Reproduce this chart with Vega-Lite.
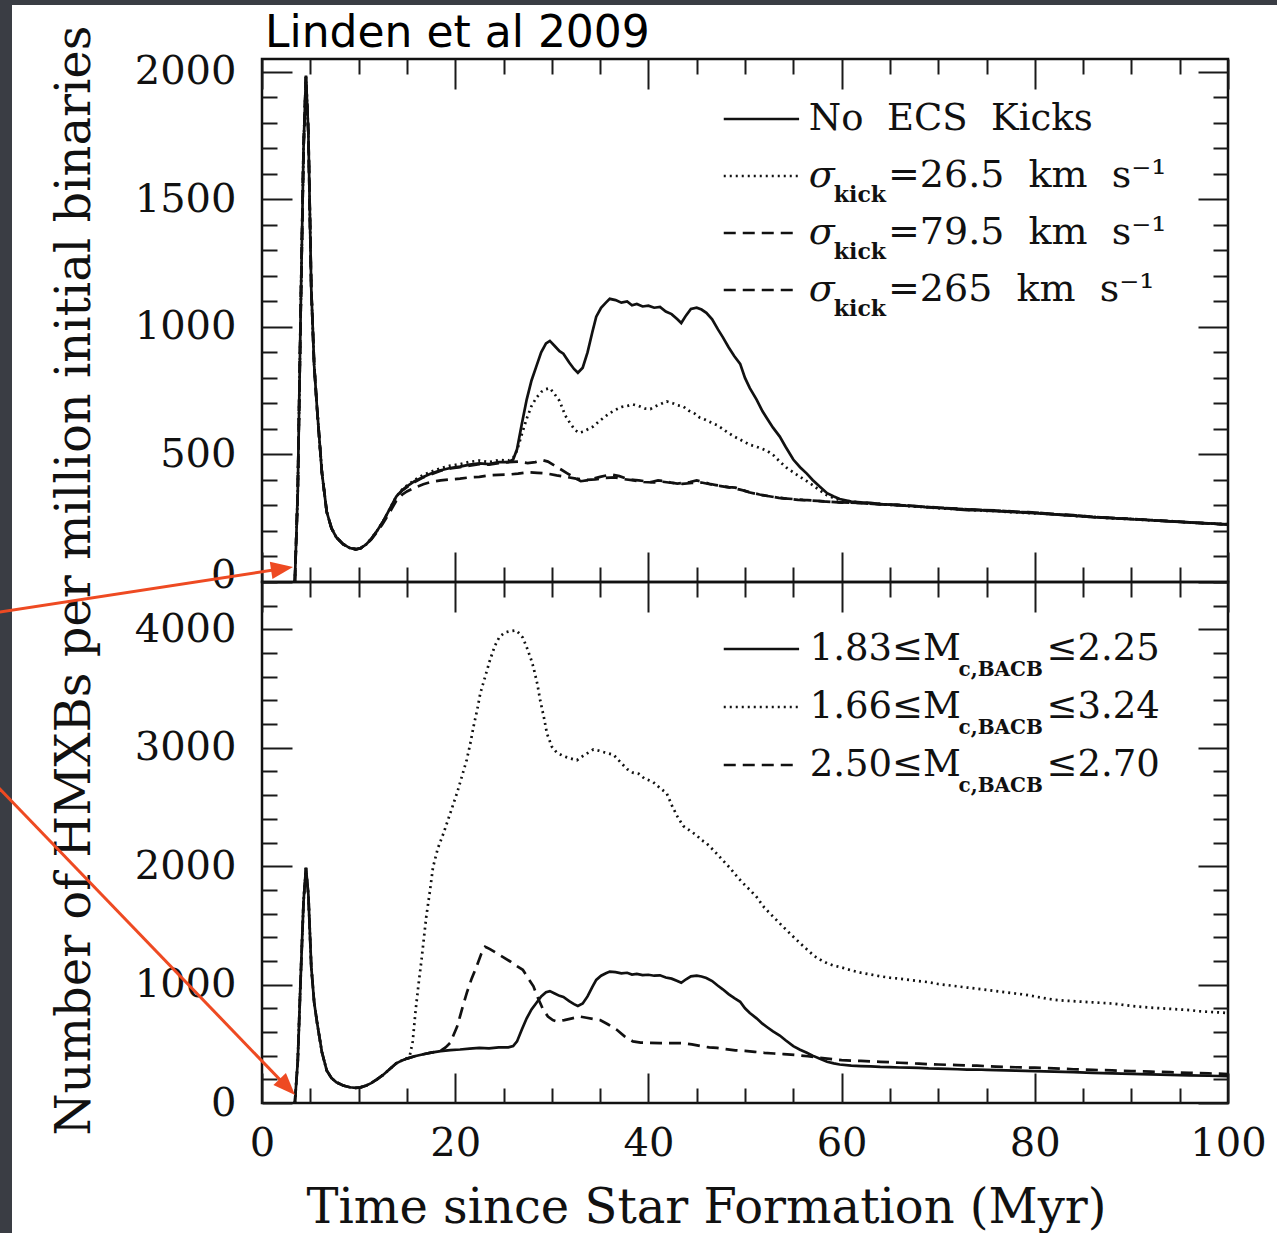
{
  "$schema": "https://vega.github.io/schema/vega-lite/v6.json",
  "background": "white",
  "autosize": {"type": "none"},
  "padding": {"left": 262, "top": 59, "right": 1015, "bottom": 1174},
  "spacing": 0,
  "bounds": "flush",
  "config": {
    "view": {"stroke": "#111", "strokeWidth": 2.5},
    "axis": {"domain": false, "grid": false, "zindex": 1, "tickColor": "#1a1a1a", "tickWidth": 2, "labelFont": "DejaVu Serif", "labelFontSize": 40, "labelColor": "#111", "titleFont": "DejaVu Serif", "titleFontWeight": "normal", "titleColor": "#111", "labelOverlap": false, "labelFlush": false, "labelBound": false}
  },
  "datasets": {
    "top": [
      {"s":"none","t":3.4,"n":0},{"s":"none","t":3.7,"n":350},{"s":"none","t":4.0,"n":1050},{"s":"none","t":4.3,"n":1700},{"s":"none","t":4.55,"n":1985},{"s":"none","t":4.8,"n":1760},{"s":"none","t":5.1,"n":1150},{"s":"none","t":5.4,"n":850},{"s":"none","t":5.7,"n":680},{"s":"none","t":6.2,"n":430},{"s":"none","t":6.7,"n":275},{"s":"none","t":7.2,"n":210},{"s":"none","t":7.7,"n":175},{"s":"none","t":8.4,"n":148},{"s":"none","t":9.1,"n":133},{"s":"none","t":9.7,"n":128},{"s":"none","t":10.2,"n":132},{"s":"none","t":10.8,"n":148},{"s":"none","t":11.3,"n":168},{"s":"none","t":11.9,"n":200},{"s":"none","t":12.5,"n":235},{"s":"none","t":13.2,"n":285},{"s":"none","t":13.9,"n":335},{"s":"none","t":14.5,"n":360},{"s":"none","t":15.0,"n":375},{"s":"none","t":15.8,"n":395},{"s":"none","t":16.7,"n":412},{"s":"none","t":17.5,"n":425},{"s":"none","t":18.5,"n":438},{"s":"none","t":19.5,"n":447},{"s":"none","t":20.5,"n":452},{"s":"none","t":21.5,"n":460},{"s":"none","t":22.5,"n":465},{"s":"none","t":23.5,"n":462},{"s":"none","t":24.5,"n":470},{"s":"none","t":25.5,"n":470},{"s":"none","t":26.0,"n":480},{"s":"none","t":26.4,"n":520},{"s":"none","t":26.9,"n":620},{"s":"none","t":27.4,"n":715},{"s":"none","t":27.9,"n":790},{"s":"none","t":28.4,"n":845},{"s":"none","t":28.9,"n":900},{"s":"none","t":29.4,"n":935},{"s":"none","t":29.8,"n":945},{"s":"none","t":30.3,"n":925},{"s":"none","t":30.8,"n":905},{"s":"none","t":31.2,"n":895},{"s":"none","t":31.8,"n":860},{"s":"none","t":32.3,"n":835},{"s":"none","t":32.7,"n":820},{"s":"none","t":33.2,"n":840},{"s":"none","t":33.7,"n":900},{"s":"none","t":34.2,"n":980},{"s":"none","t":34.6,"n":1040},{"s":"none","t":35.1,"n":1075},{"s":"none","t":35.6,"n":1095},{"s":"none","t":36.0,"n":1110},{"s":"none","t":36.6,"n":1105},{"s":"none","t":37.2,"n":1095},{"s":"none","t":37.8,"n":1100},{"s":"none","t":38.3,"n":1085},{"s":"none","t":38.8,"n":1090},{"s":"none","t":39.4,"n":1080},{"s":"none","t":40.0,"n":1083},{"s":"none","t":40.6,"n":1075},{"s":"none","t":41.2,"n":1078},{"s":"none","t":41.8,"n":1060},{"s":"none","t":42.4,"n":1050},{"s":"none","t":43.0,"n":1030},{"s":"none","t":43.4,"n":1015},{"s":"none","t":43.9,"n":1045},{"s":"none","t":44.4,"n":1070},{"s":"none","t":45.0,"n":1075},{"s":"none","t":45.5,"n":1068},{"s":"none","t":46.0,"n":1055},{"s":"none","t":46.6,"n":1030},{"s":"none","t":47.2,"n":990},{"s":"none","t":47.7,"n":960},{"s":"none","t":48.3,"n":920},{"s":"none","t":48.9,"n":885},{"s":"none","t":49.5,"n":855},{"s":"none","t":50.0,"n":800},{"s":"none","t":50.5,"n":760},{"s":"none","t":51.2,"n":715},{"s":"none","t":51.8,"n":670},{"s":"none","t":52.3,"n":640},{"s":"none","t":52.9,"n":605},{"s":"none","t":53.6,"n":570},{"s":"none","t":54.2,"n":530},{"s":"none","t":55.0,"n":480},{"s":"none","t":55.7,"n":450},{"s":"none","t":56.4,"n":425},{"s":"none","t":57.0,"n":400},{"s":"none","t":57.7,"n":375},{"s":"none","t":58.5,"n":348},{"s":"none","t":59.2,"n":335},{"s":"none","t":59.8,"n":325},{"s":"none","t":61,"n":315},{"s":"none","t":62,"n":312},{"s":"none","t":63,"n":310},{"s":"none","t":64,"n":305},{"s":"none","t":65,"n":303},{"s":"none","t":66,"n":300},{"s":"none","t":67,"n":298},{"s":"none","t":68,"n":296},{"s":"none","t":69,"n":292},{"s":"none","t":70,"n":290},{"s":"none","t":71,"n":288},{"s":"none","t":72,"n":285},{"s":"none","t":73,"n":282},{"s":"none","t":74,"n":283},{"s":"none","t":75,"n":280},{"s":"none","t":76,"n":278},{"s":"none","t":77,"n":276},{"s":"none","t":78,"n":274},{"s":"none","t":79,"n":272},{"s":"none","t":80,"n":270},{"s":"none","t":82,"n":265},{"s":"none","t":84,"n":260},{"s":"none","t":86,"n":254},{"s":"none","t":88,"n":250},{"s":"none","t":90,"n":246},{"s":"none","t":92,"n":242},{"s":"none","t":94,"n":238},{"s":"none","t":96,"n":234},{"s":"none","t":98,"n":230},{"s":"none","t":100,"n":226},

      {"s":"k26","t":3.4,"n":0},{"s":"k26","t":3.7,"n":350},{"s":"k26","t":4.0,"n":1050},{"s":"k26","t":4.3,"n":1700},{"s":"k26","t":4.55,"n":1980},{"s":"k26","t":4.8,"n":1760},{"s":"k26","t":5.1,"n":1150},{"s":"k26","t":5.4,"n":850},{"s":"k26","t":5.7,"n":680},{"s":"k26","t":6.2,"n":430},{"s":"k26","t":6.7,"n":275},{"s":"k26","t":7.2,"n":210},{"s":"k26","t":7.7,"n":175},{"s":"k26","t":8.4,"n":148},{"s":"k26","t":9.1,"n":133},{"s":"k26","t":9.7,"n":130},{"s":"k26","t":10.2,"n":132},{"s":"k26","t":10.8,"n":148},{"s":"k26","t":11.3,"n":170},{"s":"k26","t":11.9,"n":200},{"s":"k26","t":12.5,"n":235},{"s":"k26","t":13.2,"n":285},{"s":"k26","t":13.9,"n":335},{"s":"k26","t":14.5,"n":362},{"s":"k26","t":15.0,"n":378},{"s":"k26","t":15.8,"n":400},{"s":"k26","t":16.7,"n":420},{"s":"k26","t":17.5,"n":432},{"s":"k26","t":18.5,"n":446},{"s":"k26","t":19.5,"n":456},{"s":"k26","t":20.5,"n":462},{"s":"k26","t":21.5,"n":471},{"s":"k26","t":22.5,"n":476},{"s":"k26","t":23.5,"n":470},{"s":"k26","t":24.5,"n":478},{"s":"k26","t":25.5,"n":476},{"s":"k26","t":26.0,"n":486},{"s":"k26","t":26.4,"n":515},{"s":"k26","t":26.9,"n":580},{"s":"k26","t":27.4,"n":640},{"s":"k26","t":27.9,"n":690},{"s":"k26","t":28.4,"n":722},{"s":"k26","t":28.9,"n":745},{"s":"k26","t":29.4,"n":756},{"s":"k26","t":29.8,"n":760},{"s":"k26","t":30.3,"n":736},{"s":"k26","t":30.8,"n":710},{"s":"k26","t":31.4,"n":652},{"s":"k26","t":31.9,"n":622},{"s":"k26","t":32.4,"n":596},{"s":"k26","t":32.8,"n":585},{"s":"k26","t":33.3,"n":590},{"s":"k26","t":33.8,"n":600},{"s":"k26","t":34.3,"n":610},{"s":"k26","t":34.9,"n":630},{"s":"k26","t":35.5,"n":648},{"s":"k26","t":36.0,"n":662},{"s":"k26","t":36.6,"n":675},{"s":"k26","t":37.2,"n":686},{"s":"k26","t":37.8,"n":690},{"s":"k26","t":38.4,"n":696},{"s":"k26","t":39.0,"n":690},{"s":"k26","t":39.6,"n":680},{"s":"k26","t":40.2,"n":678},{"s":"k26","t":40.8,"n":690},{"s":"k26","t":41.4,"n":700},{"s":"k26","t":41.9,"n":708},{"s":"k26","t":42.5,"n":701},{"s":"k26","t":43.0,"n":693},{"s":"k26","t":43.6,"n":688},{"s":"k26","t":44.2,"n":671},{"s":"k26","t":44.8,"n":660},{"s":"k26","t":45.3,"n":645},{"s":"k26","t":45.9,"n":636},{"s":"k26","t":46.5,"n":625},{"s":"k26","t":47.1,"n":615},{"s":"k26","t":47.7,"n":600},{"s":"k26","t":48.2,"n":586},{"s":"k26","t":48.8,"n":572},{"s":"k26","t":49.4,"n":560},{"s":"k26","t":50.0,"n":548},{"s":"k26","t":50.5,"n":538},{"s":"k26","t":51.2,"n":530},{"s":"k26","t":51.8,"n":522},{"s":"k26","t":52.3,"n":514},{"s":"k26","t":53.0,"n":495},{"s":"k26","t":53.6,"n":472},{"s":"k26","t":54.3,"n":448},{"s":"k26","t":55.0,"n":430},{"s":"k26","t":55.7,"n":412},{"s":"k26","t":56.4,"n":395},{"s":"k26","t":57.0,"n":380},{"s":"k26","t":57.7,"n":360},{"s":"k26","t":58.5,"n":340},{"s":"k26","t":59.2,"n":329},{"s":"k26","t":59.8,"n":321},{"s":"k26","t":61,"n":316},{"s":"k26","t":62,"n":311},{"s":"k26","t":63,"n":309},{"s":"k26","t":64,"n":306},{"s":"k26","t":65,"n":302},{"s":"k26","t":66,"n":301},{"s":"k26","t":67,"n":297},{"s":"k26","t":68,"n":295},{"s":"k26","t":69,"n":293},{"s":"k26","t":70,"n":289},{"s":"k26","t":71,"n":287},{"s":"k26","t":72,"n":286},{"s":"k26","t":73,"n":283},{"s":"k26","t":74,"n":281},{"s":"k26","t":75,"n":279},{"s":"k26","t":76,"n":279},{"s":"k26","t":77,"n":275},{"s":"k26","t":78,"n":273},{"s":"k26","t":79,"n":271},{"s":"k26","t":80,"n":269},{"s":"k26","t":82,"n":266},{"s":"k26","t":84,"n":259},{"s":"k26","t":86,"n":255},{"s":"k26","t":88,"n":249},{"s":"k26","t":90,"n":247},{"s":"k26","t":92,"n":241},{"s":"k26","t":94,"n":239},{"s":"k26","t":96,"n":233},{"s":"k26","t":98,"n":229},{"s":"k26","t":100,"n":227},

      {"s":"k79","t":3.4,"n":0},{"s":"k79","t":3.7,"n":350},{"s":"k79","t":4.0,"n":1050},{"s":"k79","t":4.3,"n":1700},{"s":"k79","t":4.55,"n":1980},{"s":"k79","t":4.8,"n":1760},{"s":"k79","t":5.1,"n":1150},{"s":"k79","t":5.4,"n":850},{"s":"k79","t":5.7,"n":680},{"s":"k79","t":6.2,"n":430},{"s":"k79","t":6.7,"n":275},{"s":"k79","t":7.2,"n":210},{"s":"k79","t":7.7,"n":175},{"s":"k79","t":8.4,"n":148},{"s":"k79","t":9.1,"n":135},{"s":"k79","t":9.7,"n":128},{"s":"k79","t":10.2,"n":132},{"s":"k79","t":10.8,"n":150},{"s":"k79","t":11.3,"n":168},{"s":"k79","t":11.9,"n":200},{"s":"k79","t":12.5,"n":235},{"s":"k79","t":13.2,"n":282},{"s":"k79","t":13.9,"n":330},{"s":"k79","t":14.5,"n":358},{"s":"k79","t":15.0,"n":372},{"s":"k79","t":15.8,"n":392},{"s":"k79","t":16.7,"n":410},{"s":"k79","t":17.5,"n":422},{"s":"k79","t":18.5,"n":436},{"s":"k79","t":19.5,"n":445},{"s":"k79","t":20.5,"n":450},{"s":"k79","t":21.5,"n":456},{"s":"k79","t":22.5,"n":462},{"s":"k79","t":23.5,"n":460},{"s":"k79","t":24.5,"n":466},{"s":"k79","t":25.5,"n":470},{"s":"k79","t":26.5,"n":472},{"s":"k79","t":27.5,"n":466},{"s":"k79","t":28.3,"n":470},{"s":"k79","t":29.0,"n":478},{"s":"k79","t":29.6,"n":472},{"s":"k79","t":30.3,"n":456},{"s":"k79","t":31.0,"n":440},{"s":"k79","t":31.6,"n":426},{"s":"k79","t":32.3,"n":410},{"s":"k79","t":33.0,"n":395},{"s":"k79","t":33.6,"n":398},{"s":"k79","t":34.3,"n":405},{"s":"k79","t":35.0,"n":412},{"s":"k79","t":35.7,"n":418},{"s":"k79","t":36.3,"n":420},{"s":"k79","t":37.0,"n":415},{"s":"k79","t":37.7,"n":406},{"s":"k79","t":38.4,"n":400},{"s":"k79","t":39.0,"n":398},{"s":"k79","t":39.7,"n":395},{"s":"k79","t":40.3,"n":392},{"s":"k79","t":41.0,"n":398},{"s":"k79","t":41.7,"n":395},{"s":"k79","t":42.3,"n":390},{"s":"k79","t":43.0,"n":386},{"s":"k79","t":43.6,"n":388},{"s":"k79","t":44.3,"n":392},{"s":"k79","t":45.0,"n":398},{"s":"k79","t":45.7,"n":392},{"s":"k79","t":46.3,"n":385},{"s":"k79","t":47.0,"n":380},{"s":"k79","t":47.6,"n":376},{"s":"k79","t":48.3,"n":372},{"s":"k79","t":49.0,"n":370},{"s":"k79","t":49.7,"n":361},{"s":"k79","t":50.4,"n":352},{"s":"k79","t":51.1,"n":346},{"s":"k79","t":51.8,"n":340},{"s":"k79","t":52.5,"n":336},{"s":"k79","t":53.2,"n":332},{"s":"k79","t":54,"n":328},{"s":"k79","t":55,"n":325},{"s":"k79","t":56,"n":322},{"s":"k79","t":57,"n":320},{"s":"k79","t":58,"n":316},{"s":"k79","t":59,"n":314},{"s":"k79","t":60,"n":312},{"s":"k79","t":62,"n":309},{"s":"k79","t":64,"n":305},{"s":"k79","t":66,"n":301},{"s":"k79","t":68,"n":296},{"s":"k79","t":70,"n":292},{"s":"k79","t":72,"n":287},{"s":"k79","t":74,"n":283},{"s":"k79","t":76,"n":280},{"s":"k79","t":78,"n":276},{"s":"k79","t":80,"n":272},{"s":"k79","t":82,"n":266},{"s":"k79","t":84,"n":262},{"s":"k79","t":86,"n":255},{"s":"k79","t":88,"n":251},{"s":"k79","t":90,"n":247},{"s":"k79","t":92,"n":243},{"s":"k79","t":94,"n":238},{"s":"k79","t":96,"n":234},{"s":"k79","t":98,"n":229},{"s":"k79","t":100,"n":225},

      {"s":"k265","t":3.4,"n":0},{"s":"k265","t":3.7,"n":350},{"s":"k265","t":4.0,"n":1050},{"s":"k265","t":4.3,"n":1700},{"s":"k265","t":4.55,"n":1980},{"s":"k265","t":4.8,"n":1760},{"s":"k265","t":5.1,"n":1150},{"s":"k265","t":5.4,"n":850},{"s":"k265","t":5.7,"n":680},{"s":"k265","t":6.2,"n":430},{"s":"k265","t":6.7,"n":275},{"s":"k265","t":7.2,"n":210},{"s":"k265","t":7.7,"n":175},{"s":"k265","t":8.4,"n":148},{"s":"k265","t":9.1,"n":133},{"s":"k265","t":9.7,"n":128},{"s":"k265","t":10.2,"n":132},{"s":"k265","t":10.8,"n":148},{"s":"k265","t":11.3,"n":166},{"s":"k265","t":11.9,"n":196},{"s":"k265","t":12.5,"n":228},{"s":"k265","t":13.2,"n":272},{"s":"k265","t":13.9,"n":318},{"s":"k265","t":14.5,"n":342},{"s":"k265","t":15.0,"n":355},{"s":"k265","t":15.8,"n":370},{"s":"k265","t":16.7,"n":383},{"s":"k265","t":17.5,"n":392},{"s":"k265","t":18.5,"n":398},{"s":"k265","t":19.5,"n":402},{"s":"k265","t":20.5,"n":405},{"s":"k265","t":21.5,"n":410},{"s":"k265","t":22.5,"n":412},{"s":"k265","t":23.5,"n":418},{"s":"k265","t":24.5,"n":420},{"s":"k265","t":25.5,"n":421},{"s":"k265","t":26.5,"n":425},{"s":"k265","t":27.5,"n":430},{"s":"k265","t":28.5,"n":428},{"s":"k265","t":29.5,"n":425},{"s":"k265","t":30.5,"n":418},{"s":"k265","t":31.5,"n":412},{"s":"k265","t":32.5,"n":405},{"s":"k265","t":33.5,"n":400},{"s":"k265","t":34.5,"n":402},{"s":"k265","t":35.5,"n":408},{"s":"k265","t":36.5,"n":410},{"s":"k265","t":37.5,"n":403},{"s":"k265","t":38.5,"n":398},{"s":"k265","t":39.5,"n":392},{"s":"k265","t":40.5,"n":390},{"s":"k265","t":41.5,"n":393},{"s":"k265","t":42.5,"n":388},{"s":"k265","t":43.5,"n":385},{"s":"k265","t":44.5,"n":388},{"s":"k265","t":45.5,"n":390},{"s":"k265","t":46.5,"n":382},{"s":"k265","t":47.5,"n":376},{"s":"k265","t":48.5,"n":370},{"s":"k265","t":49.5,"n":362},{"s":"k265","t":50.5,"n":352},{"s":"k265","t":51.5,"n":343},{"s":"k265","t":52.5,"n":336},{"s":"k265","t":53.5,"n":330},{"s":"k265","t":54.5,"n":326},{"s":"k265","t":55.5,"n":322},{"s":"k265","t":56.5,"n":320},{"s":"k265","t":57.5,"n":318},{"s":"k265","t":58.5,"n":315},{"s":"k265","t":60,"n":311},{"s":"k265","t":62,"n":310},{"s":"k265","t":64,"n":304},{"s":"k265","t":66,"n":302},{"s":"k265","t":68,"n":297},{"s":"k265","t":70,"n":291},{"s":"k265","t":72,"n":288},{"s":"k265","t":74,"n":282},{"s":"k265","t":76,"n":281},{"s":"k265","t":78,"n":275},{"s":"k265","t":80,"n":273},{"s":"k265","t":82,"n":265},{"s":"k265","t":84,"n":261},{"s":"k265","t":86,"n":256},{"s":"k265","t":88,"n":250},{"s":"k265","t":90,"n":248},{"s":"k265","t":92,"n":242},{"s":"k265","t":94,"n":239},{"s":"k265","t":96,"n":233},{"s":"k265","t":98,"n":230},{"s":"k265","t":100,"n":224}
    ],
    "bot": [
      {"s":"m166","t":3.4,"n":0},{"s":"m166","t":3.7,"n":350},{"s":"m166","t":4.0,"n":1050},{"s":"m166","t":4.3,"n":1700},{"s":"m166","t":4.55,"n":1985},{"s":"m166","t":4.8,"n":1760},{"s":"m166","t":5.1,"n":1150},{"s":"m166","t":5.4,"n":850},{"s":"m166","t":5.7,"n":680},{"s":"m166","t":6.2,"n":430},{"s":"m166","t":6.7,"n":275},{"s":"m166","t":7.2,"n":210},{"s":"m166","t":7.7,"n":175},{"s":"m166","t":8.4,"n":148},{"s":"m166","t":9.1,"n":133},{"s":"m166","t":9.7,"n":128},{"s":"m166","t":10.2,"n":132},{"s":"m166","t":10.8,"n":148},{"s":"m166","t":11.3,"n":168},{"s":"m166","t":11.9,"n":200},{"s":"m166","t":12.5,"n":235},{"s":"m166","t":13.2,"n":285},{"s":"m166","t":13.9,"n":335},{"s":"m166","t":14.5,"n":360},{"s":"m166","t":15.0,"n":378},{"s":"m166","t":15.3,"n":400},{"s":"m166","t":15.6,"n":520},{"s":"m166","t":15.9,"n":780},{"s":"m166","t":16.2,"n":1000},{"s":"m166","t":16.5,"n":1200},{"s":"m166","t":17.0,"n":1570},{"s":"m166","t":17.4,"n":1800},{"s":"m166","t":17.7,"n":1990},{"s":"m166","t":18.2,"n":2150},{"s":"m166","t":18.8,"n":2280},{"s":"m166","t":19.5,"n":2450},{"s":"m166","t":20.2,"n":2620},{"s":"m166","t":20.7,"n":2760},{"s":"m166","t":21.2,"n":2900},{"s":"m166","t":21.6,"n":3050},{"s":"m166","t":21.9,"n":3180},{"s":"m166","t":22.3,"n":3330},{"s":"m166","t":22.6,"n":3460},{"s":"m166","t":23.1,"n":3600},{"s":"m166","t":23.6,"n":3740},{"s":"m166","t":24.1,"n":3860},{"s":"m166","t":24.6,"n":3940},{"s":"m166","t":25.2,"n":3975},{"s":"m166","t":25.7,"n":3985},{"s":"m166","t":26.3,"n":3992},{"s":"m166","t":26.7,"n":3960},{"s":"m166","t":27.0,"n":3930},{"s":"m166","t":27.4,"n":3850},{"s":"m166","t":27.8,"n":3760},{"s":"m166","t":28.1,"n":3680},{"s":"m166","t":28.5,"n":3540},{"s":"m166","t":28.8,"n":3400},{"s":"m166","t":29.2,"n":3250},{"s":"m166","t":29.5,"n":3120},{"s":"m166","t":30.0,"n":3010},{"s":"m166","t":30.5,"n":2960},{"s":"m166","t":31.2,"n":2930},{"s":"m166","t":31.9,"n":2910},{"s":"m166","t":32.6,"n":2895},{"s":"m166","t":33.2,"n":2930},{"s":"m166","t":33.8,"n":2960},{"s":"m166","t":34.3,"n":2985},{"s":"m166","t":34.9,"n":2975},{"s":"m166","t":35.5,"n":2960},{"s":"m166","t":36.4,"n":2940},{"s":"m166","t":37.2,"n":2870},{"s":"m166","t":37.8,"n":2820},{"s":"m166","t":38.4,"n":2790},{"s":"m166","t":39.0,"n":2780},{"s":"m166","t":39.6,"n":2740},{"s":"m166","t":40.5,"n":2710},{"s":"m166","t":41.2,"n":2660},{"s":"m166","t":41.9,"n":2615},{"s":"m166","t":42.5,"n":2500},{"s":"m166","t":43.0,"n":2420},{"s":"m166","t":43.6,"n":2340},{"s":"m166","t":44.3,"n":2300},{"s":"m166","t":45.0,"n":2260},{"s":"m166","t":45.5,"n":2220},{"s":"m166","t":46.0,"n":2195},{"s":"m166","t":46.8,"n":2130},{"s":"m166","t":47.7,"n":2050},{"s":"m166","t":48.5,"n":1980},{"s":"m166","t":49.3,"n":1900},{"s":"m166","t":50.0,"n":1840},{"s":"m166","t":50.5,"n":1800},{"s":"m166","t":51.2,"n":1740},{"s":"m166","t":52.0,"n":1650},{"s":"m166","t":52.9,"n":1575},{"s":"m166","t":53.8,"n":1500},{"s":"m166","t":54.8,"n":1420},{"s":"m166","t":55.7,"n":1350},{"s":"m166","t":56.5,"n":1290},{"s":"m166","t":57.2,"n":1240},{"s":"m166","t":57.8,"n":1210},{"s":"m166","t":58.5,"n":1180},{"s":"m166","t":59.2,"n":1160},{"s":"m166","t":60,"n":1145},{"s":"m166","t":61,"n":1120},{"s":"m166","t":62,"n":1100},{"s":"m166","t":63,"n":1085},{"s":"m166","t":64,"n":1070},{"s":"m166","t":65,"n":1058},{"s":"m166","t":66,"n":1050},{"s":"m166","t":67,"n":1040},{"s":"m166","t":68,"n":1030},{"s":"m166","t":69,"n":1020},{"s":"m166","t":70,"n":1005},{"s":"m166","t":71,"n":995},{"s":"m166","t":72,"n":985},{"s":"m166","t":73,"n":975},{"s":"m166","t":74,"n":965},{"s":"m166","t":75,"n":955},{"s":"m166","t":76,"n":945},{"s":"m166","t":77,"n":935},{"s":"m166","t":78,"n":925},{"s":"m166","t":79,"n":915},{"s":"m166","t":80,"n":900},{"s":"m166","t":81,"n":885},{"s":"m166","t":82,"n":872},{"s":"m166","t":83,"n":865},{"s":"m166","t":84,"n":860},{"s":"m166","t":85,"n":855},{"s":"m166","t":86,"n":850},{"s":"m166","t":87,"n":845},{"s":"m166","t":88,"n":840},{"s":"m166","t":89,"n":830},{"s":"m166","t":90,"n":820},{"s":"m166","t":91,"n":812},{"s":"m166","t":92,"n":805},{"s":"m166","t":93,"n":800},{"s":"m166","t":94,"n":795},{"s":"m166","t":95,"n":790},{"s":"m166","t":96,"n":785},{"s":"m166","t":97,"n":775},{"s":"m166","t":98,"n":770},{"s":"m166","t":99,"n":765},{"s":"m166","t":100,"n":760},

      {"s":"m250","t":3.4,"n":0},{"s":"m250","t":3.7,"n":350},{"s":"m250","t":4.0,"n":1050},{"s":"m250","t":4.3,"n":1700},{"s":"m250","t":4.55,"n":1985},{"s":"m250","t":4.8,"n":1760},{"s":"m250","t":5.1,"n":1150},{"s":"m250","t":5.4,"n":850},{"s":"m250","t":5.7,"n":680},{"s":"m250","t":6.2,"n":430},{"s":"m250","t":6.7,"n":275},{"s":"m250","t":7.2,"n":210},{"s":"m250","t":7.7,"n":175},{"s":"m250","t":8.4,"n":148},{"s":"m250","t":9.1,"n":133},{"s":"m250","t":9.7,"n":128},{"s":"m250","t":10.2,"n":132},{"s":"m250","t":10.8,"n":148},{"s":"m250","t":11.3,"n":168},{"s":"m250","t":11.9,"n":200},{"s":"m250","t":12.5,"n":235},{"s":"m250","t":13.2,"n":285},{"s":"m250","t":13.9,"n":335},{"s":"m250","t":14.5,"n":360},{"s":"m250","t":15.0,"n":375},{"s":"m250","t":15.8,"n":395},{"s":"m250","t":16.7,"n":412},{"s":"m250","t":17.5,"n":425},{"s":"m250","t":18.5,"n":442},{"s":"m250","t":19.0,"n":470},{"s":"m250","t":19.5,"n":510},{"s":"m250","t":20.2,"n":645},{"s":"m250","t":20.7,"n":790},{"s":"m250","t":21.2,"n":930},{"s":"m250","t":21.7,"n":1050},{"s":"m250","t":22.2,"n":1150},{"s":"m250","t":22.7,"n":1260},{"s":"m250","t":23.1,"n":1320},{"s":"m250","t":23.6,"n":1300},{"s":"m250","t":24.3,"n":1265},{"s":"m250","t":25.0,"n":1230},{"s":"m250","t":25.7,"n":1195},{"s":"m250","t":26.3,"n":1160},{"s":"m250","t":27.0,"n":1125},{"s":"m250","t":27.5,"n":1060},{"s":"m250","t":28.1,"n":985},{"s":"m250","t":28.6,"n":880},{"s":"m250","t":29.1,"n":790},{"s":"m250","t":29.6,"n":730},{"s":"m250","t":30.1,"n":700},{"s":"m250","t":30.5,"n":690},{"s":"m250","t":31.3,"n":700},{"s":"m250","t":32.1,"n":715},{"s":"m250","t":32.9,"n":730},{"s":"m250","t":33.6,"n":720},{"s":"m250","t":34.3,"n":710},{"s":"m250","t":35.0,"n":700},{"s":"m250","t":35.8,"n":665},{"s":"m250","t":36.7,"n":620},{"s":"m250","t":37.5,"n":565},{"s":"m250","t":38.4,"n":520},{"s":"m250","t":39.2,"n":510},{"s":"m250","t":40.2,"n":508},{"s":"m250","t":41.2,"n":505},{"s":"m250","t":42.2,"n":505},{"s":"m250","t":43.6,"n":505},{"s":"m250","t":44.5,"n":495},{"s":"m250","t":45.5,"n":480},{"s":"m250","t":46.3,"n":470},{"s":"m250","t":47.1,"n":465},{"s":"m250","t":48.0,"n":455},{"s":"m250","t":49.0,"n":445},{"s":"m250","t":50.0,"n":440},{"s":"m250","t":51.0,"n":432},{"s":"m250","t":52.0,"n":424},{"s":"m250","t":53.0,"n":418},{"s":"m250","t":54.0,"n":413},{"s":"m250","t":55.3,"n":405},{"s":"m250","t":56.5,"n":395},{"s":"m250","t":57.5,"n":385},{"s":"m250","t":58.5,"n":375},{"s":"m250","t":59.5,"n":366},{"s":"m250","t":60,"n":362},{"s":"m250","t":62,"n":355},{"s":"m250","t":64,"n":348},{"s":"m250","t":66,"n":340},{"s":"m250","t":68,"n":332},{"s":"m250","t":70,"n":325},{"s":"m250","t":72,"n":320},{"s":"m250","t":74,"n":315},{"s":"m250","t":76,"n":308},{"s":"m250","t":78,"n":302},{"s":"m250","t":80,"n":298},{"s":"m250","t":82,"n":292},{"s":"m250","t":84,"n":285},{"s":"m250","t":86,"n":280},{"s":"m250","t":88,"n":275},{"s":"m250","t":90,"n":270},{"s":"m250","t":92,"n":265},{"s":"m250","t":94,"n":260},{"s":"m250","t":96,"n":255},{"s":"m250","t":98,"n":250},{"s":"m250","t":100,"n":245}
    ],
    "legT": [
      {"s":"none","a":"No\u00a0\u00a0ECS\u00a0\u00a0Kicks","b":"","c":""},
      {"s":"k26","a":"σ","b":"kick","c":"=26.5\u00a0\u00a0km\u00a0\u00a0s⁻¹"},
      {"s":"k79","a":"σ","b":"kick","c":"=79.5\u00a0\u00a0km\u00a0\u00a0s⁻¹"},
      {"s":"k265","a":"σ","b":"kick","c":"=265\u00a0\u00a0km\u00a0\u00a0s⁻¹"}
    ],
    "legB": [
      {"s":"none","a":"1.83≤M","b":"c,BACB","c":"≤2.25"},
      {"s":"m166","a":"1.66≤M","b":"c,BACB","c":"≤3.24"},
      {"s":"m250","a":"2.50≤M","b":"c,BACB","c":"≤2.70"}
    ],
    "note": [{"label": "Linden et al 2009"}]
  },
  "vconcat": [
    {
      "width": 966,
      "height": 523,
      "resolve": {"scale": {"y": "independent"}, "axis": {"x": "independent", "y": "independent"}},
      "layer": [
        {
          "data": {"values": [{}]},
          "mark": {"type": "rect", "color": "#3a3d44"},
          "encoding": {
            "x": {"datum": -27.5, "type": "quantitative", "scale": {"domain": [0, 100], "nice": false}, "axis": null},
            "x2": {"datum": -25.88},
            "y": {"datum": 2300, "type": "quantitative", "scale": {"domain": [0, 2050], "nice": false, "zero": false}, "axis": null},
            "y2": {"datum": -2600}
          }
        },
        {
          "data": {"values": [{}]},
          "mark": {"type": "rect", "color": "#3a3d44"},
          "encoding": {
            "x": {"datum": -27.5, "type": "quantitative", "scale": {"domain": [0, 100], "nice": false}, "axis": null},
            "x2": {"datum": 106},
            "y": {"datum": 2300, "type": "quantitative", "scale": {"domain": [0, 2050], "nice": false, "zero": false}, "axis": null},
            "y2": {"datum": 2261.6}
          }
        },
        {
          "data": {"name": "top"},
          "transform": [{"filter": "datum.s === 'none'"}],
          "mark": {"type": "line", "color": "#111", "strokeWidth": 2.7},
          "encoding": {
            "x": {"field": "t", "type": "quantitative", "scale": {"domain": [0, 100], "nice": false},
              "axis": {"orient": "bottom", "values": [0,5,10,15,20,25,30,35,40,45,50,55,60,65,70,75,80,85,90,95,100], "tickSize": {"condition": {"test": "datum.value % 20 === 0", "value": -30}, "value": -15}, "labels": false, "title": null}},
            "y": {"field": "n", "type": "quantitative", "scale": {"domain": [0, 2050], "nice": false, "zero": false},
              "axis": {"orient": "left", "values": [0,100,200,300,400,500,600,700,800,900,1000,1100,1200,1300,1400,1500,1600,1700,1800,1900,2000], "format": "d", "tickSize": {"condition": {"test": "datum.value % 500 === 0", "value": -30}, "value": -15}, "labelExpr": "datum.value % 500 === 0 ? datum.label : ''", "labelPadding": 56, "labelOffset": {"condition": {"test": "datum.value === 0", "value": -7}, "value": 0},
                "title": "Number of HMXBs per million initial binaries", "titleX": -187, "titleY": 521, "titleAngle": 270, "titleAlign": "center", "titleBaseline": "middle", "titleFontSize": 48, "titleLimit": 2000}}
          }
        },
        {
          "data": {"name": "top"},
          "transform": [{"filter": "datum.s !== 'none'"}],
          "mark": {"type": "line", "color": "#111", "strokeWidth": 2.7},
          "encoding": {
            "x": {"field": "t", "type": "quantitative", "scale": {"domain": [0, 100], "nice": false},
              "axis": {"orient": "top", "values": [0,5,10,15,20,25,30,35,40,45,50,55,60,65,70,75,80,85,90,95,100], "tickSize": {"condition": {"test": "datum.value % 20 === 0", "value": -30}, "value": -15}, "labels": false, "title": null}},
            "y": {"field": "n", "type": "quantitative", "scale": {"domain": [0, 2050], "nice": false, "zero": false},
              "axis": {"orient": "right", "values": [0,100,200,300,400,500,600,700,800,900,1000,1100,1200,1300,1400,1500,1600,1700,1800,1900,2000], "tickSize": {"condition": {"test": "datum.value % 500 === 0", "value": -30}, "value": -15}, "labels": false, "title": null}},
            "strokeDash": {"field": "s", "type": "nominal", "scale": {"domain": ["none","k26","k79","k265","m166","m250"], "range": [[1,0],[2,4],[12,7],[12,7],[2,4],[12,7]]}, "legend": null}
          }
        },
        {
          "data": {"name": "legT"},
          "mark": {"type": "rule", "color": "#111", "strokeWidth": 2.7},
          "encoding": {
            "x": {"datum": 47.8, "type": "quantitative", "scale": {"domain": [0, 100], "nice": false}, "axis": null},
            "x2": {"datum": 55.6},
            "y": {"field": "s", "type": "nominal", "scale": {"type": "point", "domain": ["none","k26","k79","k265"], "range": [60, 231], "padding": 0}, "axis": null},
            "strokeDash": {"field": "s", "type": "nominal", "scale": {"domain": ["none","k26","k79","k265","m166","m250"], "range": [[1,0],[2,4],[12,7],[12,7],[2,4],[12,7]]}, "legend": null}
          }
        },
        {
          "data": {"name": "legT"},
          "transform": [{"filter": "datum.s === 'none'"}],
          "mark": {"type": "text", "align": "left", "baseline": "middle", "font": "DejaVu Serif", "fontSize": 37, "color": "#111"},
          "encoding": {
            "x": {"datum": 56.6, "type": "quantitative", "scale": {"domain": [0, 100], "nice": false}, "axis": null},
            "y": {"field": "s", "type": "nominal", "scale": {"type": "point", "domain": ["none","k26","k79","k265"], "range": [60, 231], "padding": 0}, "axis": null},
            "text": {"field": "a"}
          }
        },
        {
          "data": {"name": "legT"},
          "transform": [{"filter": "datum.s !== 'none'"}],
          "mark": {"type": "text", "align": "left", "baseline": "middle", "font": "DejaVu Serif", "fontSize": 38, "fontStyle": "italic", "color": "#111"},
          "encoding": {
            "x": {"datum": 56.6, "type": "quantitative", "scale": {"domain": [0, 100], "nice": false}, "axis": null},
            "y": {"field": "s", "type": "nominal", "scale": {"type": "point", "domain": ["none","k26","k79","k265"], "range": [60, 231], "padding": 0}, "axis": null},
            "text": {"field": "a"}
          }
        },
        {
          "data": {"name": "legT"},
          "transform": [{"filter": "datum.s !== 'none'"}],
          "mark": {"type": "text", "align": "left", "baseline": "middle", "dy": 19, "font": "DejaVu Serif", "fontSize": 22, "fontWeight": "bold", "color": "#111"},
          "encoding": {
            "x": {"datum": 59.2, "type": "quantitative", "scale": {"domain": [0, 100], "nice": false}, "axis": null},
            "y": {"field": "s", "type": "nominal", "scale": {"type": "point", "domain": ["none","k26","k79","k265"], "range": [60, 231], "padding": 0}, "axis": null},
            "text": {"field": "b"}
          }
        },
        {
          "data": {"name": "legT"},
          "transform": [{"filter": "datum.s !== 'none'"}],
          "mark": {"type": "text", "align": "left", "baseline": "middle", "font": "DejaVu Serif", "fontSize": 38, "color": "#111"},
          "encoding": {
            "x": {"datum": 64.8, "type": "quantitative", "scale": {"domain": [0, 100], "nice": false}, "axis": null},
            "y": {"field": "s", "type": "nominal", "scale": {"type": "point", "domain": ["none","k26","k79","k265"], "range": [60, 231], "padding": 0}, "axis": null},
            "text": {"field": "c"}
          }
        },
        {
          "data": {"name": "note"},
          "mark": {"type": "text", "align": "left", "baseline": "alphabetic", "font": "DejaVu Sans", "fontSize": 44, "color": "#000"},
          "encoding": {
            "x": {"datum": 0.3, "type": "quantitative", "scale": {"domain": [0, 100], "nice": false}, "axis": null},
            "y": {"datum": 2097, "type": "quantitative", "scale": {"domain": [0, 2050], "nice": false, "zero": false}, "axis": null},
            "text": {"field": "label"}
          }
        },
        {
          "data": {"values": [{}]},
          "mark": {"type": "rule", "color": "#ee4a22", "strokeWidth": 3},
          "encoding": {
            "x": {"datum": -27.3, "type": "quantitative", "scale": {"domain": [0, 100], "nice": false}, "axis": null},
            "x2": {"datum": 2.17},
            "y": {"datum": -118.8, "type": "quantitative", "scale": {"domain": [0, 2050], "nice": false, "zero": false}, "axis": null},
            "y2": {"datum": 52.9}
          }
        },
        {
          "data": {"values": [{}]},
          "mark": {"type": "point", "shape": "M0,0L-1.4,-0.55L-1.4,0.55Z", "filled": true, "size": 1000, "angle": -8.7, "color": "#ee4a22", "opacity": 1},
          "encoding": {
            "x": {"datum": 3.21, "type": "quantitative", "scale": {"domain": [0, 100], "nice": false}, "axis": null},
            "y": {"datum": 58.8, "type": "quantitative", "scale": {"domain": [0, 2050], "nice": false, "zero": false}, "axis": null}
          }
        }
      ]
    },
    {
      "width": 966,
      "height": 521,
      "resolve": {"scale": {"y": "independent"}, "axis": {"x": "independent", "y": "independent"}},
      "layer": [
        {
          "data": {"name": "top"},
          "transform": [{"filter": "datum.s === 'none'"}],
          "mark": {"type": "line", "color": "#111", "strokeWidth": 2.7},
          "encoding": {
            "x": {"field": "t", "type": "quantitative", "scale": {"domain": [0, 100], "nice": false},
              "axis": {"orient": "bottom", "values": [0,5,10,15,20,25,30,35,40,45,50,55,60,65,70,75,80,85,90,95,100], "format": "d", "tickSize": {"condition": {"test": "datum.value % 20 === 0", "value": -30}, "value": -15}, "labelExpr": "datum.value % 20 === 0 ? datum.label : ''", "labelPadding": 50,
                "title": "Time since Star Formation (Myr)", "titleX": 444, "titleY": 105, "titleAlign": "center", "titleBaseline": "middle", "titleFontSize": 48, "titleLimit": 2000}},
            "y": {"field": "n", "type": "quantitative", "scale": {"domain": [0, 4400], "nice": false, "zero": false},
              "axis": {"orient": "left", "values": [0,200,400,600,800,1000,1200,1400,1600,1800,2000,2200,2400,2600,2800,3000,3200,3400,3600,3800,4000,4200,4400], "format": "d", "tickSize": {"condition": {"test": "datum.value % 1000 === 0", "value": -30}, "value": -15}, "labelExpr": "datum.value % 1000 === 0 ? datum.label : ''", "labelPadding": 56, "title": null}}
          }
        },
        {
          "data": {"name": "bot"},
          "mark": {"type": "line", "color": "#111", "strokeWidth": 2.7},
          "encoding": {
            "x": {"field": "t", "type": "quantitative", "scale": {"domain": [0, 100], "nice": false},
              "axis": {"orient": "top", "values": [0,5,10,15,20,25,30,35,40,45,50,55,60,65,70,75,80,85,90,95,100], "tickSize": {"condition": {"test": "datum.value % 20 === 0", "value": -30}, "value": -15}, "labels": false, "title": null}},
            "y": {"field": "n", "type": "quantitative", "scale": {"domain": [0, 4400], "nice": false, "zero": false},
              "axis": {"orient": "right", "values": [0,200,400,600,800,1000,1200,1400,1600,1800,2000,2200,2400,2600,2800,3000,3200,3400,3600,3800,4000,4200,4400], "tickSize": {"condition": {"test": "datum.value % 1000 === 0", "value": -30}, "value": -15}, "labels": false, "title": null}},
            "strokeDash": {"field": "s", "type": "nominal", "scale": {"domain": ["none","k26","k79","k265","m166","m250"], "range": [[1,0],[2,4],[12,7],[12,7],[2,4],[12,7]]}, "legend": null}
          }
        },
        {
          "data": {"name": "legB"},
          "mark": {"type": "rule", "color": "#111", "strokeWidth": 2.7},
          "encoding": {
            "x": {"datum": 47.8, "type": "quantitative", "scale": {"domain": [0, 100], "nice": false}, "axis": null},
            "x2": {"datum": 55.6},
            "y": {"field": "s", "type": "nominal", "scale": {"type": "point", "domain": ["none","m166","m250"], "range": [67, 183], "padding": 0}, "axis": null},
            "strokeDash": {"field": "s", "type": "nominal", "scale": {"domain": ["none","k26","k79","k265","m166","m250"], "range": [[1,0],[2,4],[12,7],[12,7],[2,4],[12,7]]}, "legend": null}
          }
        },
        {
          "data": {"name": "legB"},
          "mark": {"type": "text", "align": "left", "baseline": "middle", "font": "DejaVu Serif", "fontSize": 37, "color": "#111"},
          "encoding": {
            "x": {"datum": 56.7, "type": "quantitative", "scale": {"domain": [0, 100], "nice": false}, "axis": null},
            "y": {"field": "s", "type": "nominal", "scale": {"type": "point", "domain": ["none","m166","m250"], "range": [67, 183], "padding": 0}, "axis": null},
            "text": {"field": "a"}
          }
        },
        {
          "data": {"name": "legB"},
          "mark": {"type": "text", "align": "left", "baseline": "middle", "dy": 21, "font": "DejaVu Serif", "fontSize": 20, "fontWeight": "bold", "color": "#111"},
          "encoding": {
            "x": {"datum": 72.1, "type": "quantitative", "scale": {"domain": [0, 100], "nice": false}, "axis": null},
            "y": {"field": "s", "type": "nominal", "scale": {"type": "point", "domain": ["none","m166","m250"], "range": [67, 183], "padding": 0}, "axis": null},
            "text": {"field": "b"}
          }
        },
        {
          "data": {"name": "legB"},
          "mark": {"type": "text", "align": "left", "baseline": "middle", "font": "DejaVu Serif", "fontSize": 37, "color": "#111"},
          "encoding": {
            "x": {"datum": 81.2, "type": "quantitative", "scale": {"domain": [0, 100], "nice": false}, "axis": null},
            "y": {"field": "s", "type": "nominal", "scale": {"type": "point", "domain": ["none","m166","m250"], "range": [67, 183], "padding": 0}, "axis": null},
            "text": {"field": "c"}
          }
        },
        {
          "data": {"values": [{}]},
          "mark": {"type": "rule", "color": "#ee4a22", "strokeWidth": 3},
          "encoding": {
            "x": {"datum": -27.3, "type": "quantitative", "scale": {"domain": [0, 100], "nice": false}, "axis": null},
            "x2": {"datum": 2.69},
            "y": {"datum": 2666, "type": "quantitative", "scale": {"domain": [0, 4400], "nice": false, "zero": false}, "axis": null},
            "y2": {"datum": 126.7}
          }
        },
        {
          "data": {"values": [{}]},
          "mark": {"type": "point", "shape": "M0,0L-1.4,-0.55L-1.4,0.55Z", "filled": true, "size": 1000, "angle": 46, "color": "#ee4a22", "opacity": 1},
          "encoding": {
            "x": {"datum": 3.42, "type": "quantitative", "scale": {"domain": [0, 100], "nice": false}, "axis": null},
            "y": {"datum": 67.6, "type": "quantitative", "scale": {"domain": [0, 4400], "nice": false, "zero": false}, "axis": null}
          }
        }
      ]
    }
  ]
}
